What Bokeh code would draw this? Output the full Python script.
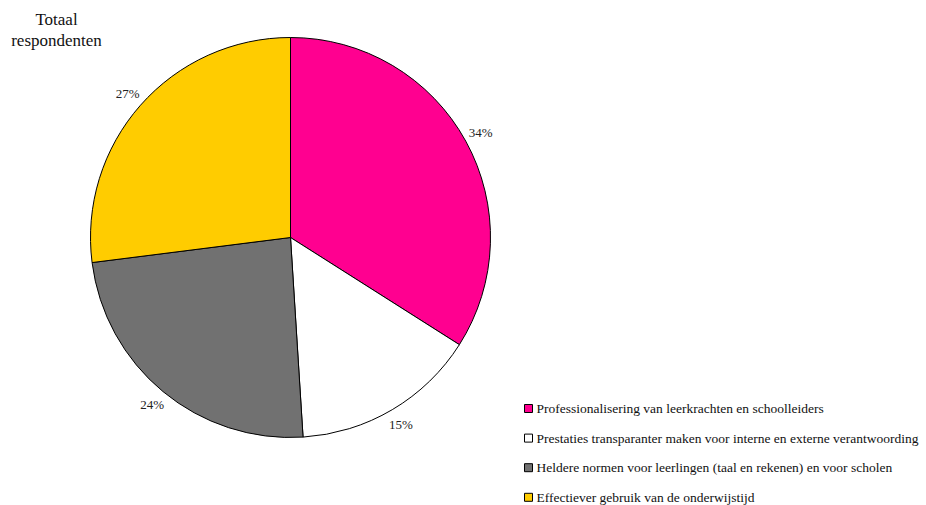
import math
from bokeh.plotting import figure
from bokeh.models import Range1d, ColumnDataSource
from bokeh.core.properties import value
from bokeh.embed import file_html
from bokeh.resources import INLINE

# ---- data ----
categories = [
    "Professionalisering van leerkrachten en schoolleiders",
    "Prestaties transparanter maken voor interne en externe verantwoording",
    "Heldere normen voor leerlingen (taal en rekenen) en voor scholen",
    "Effectiever gebruik van de onderwijstijd",
]
shares = [34, 15, 24, 27]
colors = ["#FF0090", "#FFFFFF", "#717171", "#FFCC00"]
title_lines = ["Totaal", "respondenten"]

FONT = value("Liberation Serif")

W, H = 926, 505
# coordinates: x = screen x, y = -screen y
p = figure(width=W, height=H, output_backend="svg", toolbar_location=None,
           x_range=Range1d(0, W), y_range=Range1d(-H, 0),
           x_axis_type=None, y_axis_type=None,
           min_border=0, min_border_left=0, min_border_right=0,
           min_border_top=0, min_border_bottom=0)
p.outline_line_color = None
p.grid.visible = False
p.background_fill_color = "white"
p.border_fill_color = "white"

cx, cy, r = 290, -237, 200
total = float(sum(shares))
starts, ends, lx, ly, labels = [], [], [], [], []
cum = 0.0
for s in shares:
    a0 = math.pi / 2 - 2 * math.pi * cum / total
    cum += s
    a1 = math.pi / 2 - 2 * math.pi * cum / total
    starts.append(a0)
    ends.append(a1)
    mid = (a0 + a1) / 2
    lx.append(cx + 217 * math.cos(mid))
    ly.append(cy + 217 * math.sin(mid))
    labels.append(f"{s}%")

src = ColumnDataSource(dict(start=starts, end=ends, color=colors))
p.wedge(x=cx, y=cy, radius=r, start_angle="start", end_angle="end",
        direction="clock", fill_color="color", line_color="black",
        line_width=1, source=src)

p.text(x=lx, y=ly, text=labels, text_font=FONT, text_font_size="13px",
       text_color="#222222", text_align="center", text_baseline="middle")

# title
p.text(x=[56, 56], y=[-19, -40], text=title_lines, text_font=FONT,
       text_font_size="17px", text_color="#111111", text_align="center",
       text_baseline="middle")

# legend
leg_y = [-(408 + 29.6 * i) for i in range(len(categories))]
p.rect(x=[528] * len(categories), y=leg_y, width=8, height=8,
       fill_color=colors, line_color="black", line_width=1)
p.text(x=[536] * len(categories), y=leg_y, text=categories, text_font=FONT,
       text_font_size="13.5px", text_color="#111111", text_align="left",
       text_baseline="middle")

open("out.html", "w").write(file_html(p, INLINE))
